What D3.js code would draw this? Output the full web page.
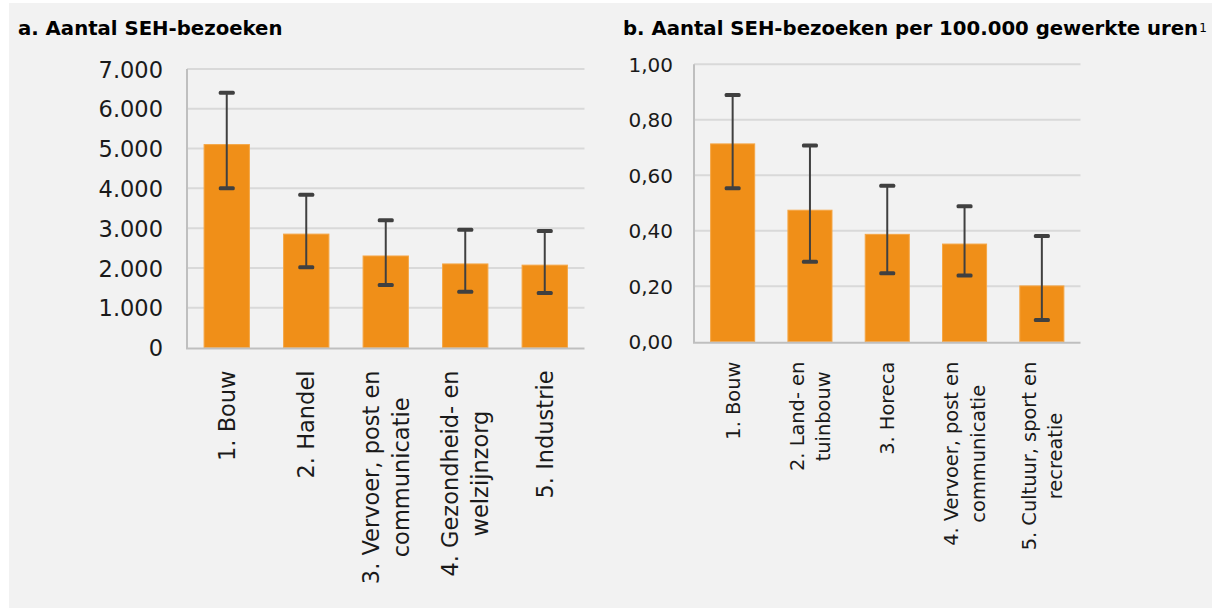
<!DOCTYPE html>
<html>
<head>
<meta charset="utf-8">
<script src="https://cdn.jsdelivr.net/npm/d3@7"></script>
<style>
  html, body { margin: 0; padding: 0; background: #ffffff; }
  svg { display: block; font-family: "DejaVu Sans", sans-serif; }
</style>
</head>
<body>
<div id="chartBox"></div>
<script>
// a. Aantal SEH-bezoeken
var categoriesA = [
  ["1. Bouw"],
  ["2. Handel"],
  ["3. Vervoer, post en", "communicatie"],
  ["4. Gezondheid- en", "welzijnzorg"],
  ["5. Industrie"]
];
var valuesA = [5100, 2850, 2300, 2100, 2070];
var lowA = [4000, 2020, 1570, 1400, 1370];
var highA = [6400, 3840, 3200, 2960, 2930];
var ticksA = [0, 1000, 2000, 3000, 4000, 5000, 6000, 7000];

// b. Aantal SEH-bezoeken per 100.000 gewerkte uren
var categoriesB = [
  ["1. Bouw"],
  ["2. Land- en", "tuinbouw"],
  ["3. Horeca"],
  ["4. Vervoer, post en", "communicatie"],
  ["5. Cultuur, sport en", "recreatie"]
];
var valuesB = [0.713, 0.474, 0.387, 0.352, 0.201];
var lowB = [0.553, 0.288, 0.247, 0.239, 0.078];
var highB = [0.889, 0.707, 0.562, 0.488, 0.381];
var ticksB = [0, 0.2, 0.4, 0.6, 0.8, 1.0];

var w = 1212;
var h = 608;

var nl = d3.formatLocale({ decimal: ",", thousands: ".", grouping: [3], currency: ["€", ""] });

var svg = d3.select("#chartBox")
  .append("svg")
  .attr("width", w)
  .attr("height", h);

// grey background panel
svg.append("rect")
  .attr("x", 9)
  .attr("y", 3)
  .attr("width", w - 9)
  .attr("height", h - 3)
  .attr("fill", "#f2f2f2");

function drawPanel(opt) {
  var g = svg.append("g");

  var x = d3.scaleBand()
    .domain(d3.range(opt.values.length))
    .range([opt.left, opt.right])
    .paddingInner(0.43)
    .paddingOuter(0.215);

  var y = d3.scaleLinear()
    .domain([0, opt.max])
    .range([opt.bottom, opt.top]);

  // gridlines
  g.append("g")
    .selectAll("line")
    .data(opt.ticks.slice(1))
    .enter()
    .append("line")
    .attr("x1", opt.left)
    .attr("x2", opt.right)
    .attr("y1", function(d) { return y(d); })
    .attr("y2", function(d) { return y(d); })
    .attr("stroke", "#d9d9d9")
    .attr("stroke-width", 2);

  // y tick labels
  var yAxis = d3.axisLeft(y)
    .tickValues(opt.ticks)
    .tickFormat(opt.format)
    .tickSize(0)
    .tickPadding(opt.left - opt.labelRight);

  var ya = g.append("g")
    .attr("transform", "translate(" + opt.left + ",0)")
    .call(yAxis);
  ya.select(".domain").remove();
  ya.selectAll("text")
    .attr("font-family", "DejaVu Sans, sans-serif")
    .attr("font-size", opt.tickSize)
    .attr("fill", "#1a1a1a")
    .attr("dy", "0.36em");

  // bars
  g.append("g")
    .selectAll("rect")
    .data(opt.values)
    .enter()
    .append("rect")
    .attr("x", function(d, i) { return x(i); })
    .attr("y", function(d) { return y(d); })
    .attr("width", x.bandwidth())
    .attr("height", function(d) { return opt.bottom - y(d); })
    .attr("fill", "#f08f18")
    .attr("stroke", "#f5a645")
    .attr("stroke-width", 1);

  // axis lines
  g.append("line")
    .attr("x1", opt.left)
    .attr("x2", opt.left)
    .attr("y1", y(opt.max))
    .attr("y2", opt.bottom + 1)
    .attr("stroke", "#bfbfbf")
    .attr("stroke-width", 2);
  g.append("line")
    .attr("x1", opt.left - 1)
    .attr("x2", opt.right)
    .attr("y1", opt.bottom + 1)
    .attr("y2", opt.bottom + 1)
    .attr("stroke", "#bfbfbf")
    .attr("stroke-width", 2);

  // error bars
  var err = g.append("g")
    .selectAll("g")
    .data(opt.values)
    .enter()
    .append("g")
    .attr("transform", function(d, i) { return "translate(" + (x(i) + x.bandwidth() / 2) + ",0)"; });

  err.append("line")
    .attr("y1", function(d, i) { return y(opt.high[i]); })
    .attr("y2", function(d, i) { return y(opt.low[i]); })
    .attr("stroke", "#404040")
    .attr("stroke-width", 2);

  err.selectAll("rect")
    .data(function(d, i) { return [opt.high[i], opt.low[i]]; })
    .enter()
    .append("rect")
    .attr("x", -8)
    .attr("y", function(d) { return y(d) - 2; })
    .attr("width", 16)
    .attr("height", 4)
    .attr("rx", 1.5)
    .attr("fill", "#404040");

  // rotated category labels, lines centred on each other
  var lab = g.append("g")
    .selectAll("text")
    .data(opt.categories)
    .enter()
    .append("text")
    .attr("font-size", opt.labelSize)
    .attr("fill", "#1a1a1a")
    .attr("text-anchor", "middle")
    .attr("transform", function(d, i) {
      return "translate(" + (x(i) + x.bandwidth() / 2) + "," + (opt.bottom + opt.labelGap) + ") rotate(-90)";
    });

  lab.each(function(lines) {
    var t = d3.select(this);
    var cap = 0.73 * opt.labelSize;
    var y0 = cap / 2 - (lines.length - 1) * opt.lineGap / 2;
    lines.forEach(function(s, k) {
      t.append("tspan")
        .attr("x", 0)
        .attr("y", y0 + k * opt.lineGap)
        .text(s);
    });
    var longest = d3.max(t.selectAll("tspan").nodes(), function(n) { return n.getComputedTextLength(); });
    t.selectAll("tspan").attr("x", -longest / 2);
  });

  // title
  var title = svg.append("text")
    .attr("x", opt.titleX)
    .attr("y", 35)
    .attr("font-size", 19.7)
    .attr("font-weight", "bold")
    .attr("fill", "#000000")
    .text(opt.title);

  if (opt.note) {
    title.append("tspan")
      .attr("font-size", 12)
      .attr("font-weight", "normal")
      .attr("dx", 1)
      .attr("dy", -3)
      .text(opt.note);
  }
}

drawPanel({
  categories: categoriesA,
  values: valuesA,
  low: lowA,
  high: highA,
  ticks: ticksA,
  max: 7000,
  format: nl.format(",.0f"),
  left: 187,
  right: 584.5,
  top: 69,
  bottom: 347.5,
  labelRight: 163,
  tickSize: 22.5,
  labelSize: 22.5,
  labelGap: 23,
  lineGap: 30,
  title: "a. Aantal SEH-bezoeken",
  titleX: 18
});

drawPanel({
  categories: categoriesB,
  values: valuesB,
  low: lowB,
  high: highB,
  ticks: ticksB,
  max: 1.0,
  format: nl.format(",.2f"),
  left: 694,
  right: 1080.5,
  top: 64.3,
  bottom: 341.7,
  labelRight: 673,
  tickSize: 20,
  labelSize: 19.4,
  labelGap: 20,
  lineGap: 26.5,
  title: "b. Aantal SEH-bezoeken per 100.000 gewerkte uren",
  note: "1",
  titleX: 623
});
</script>
</body>
</html>
